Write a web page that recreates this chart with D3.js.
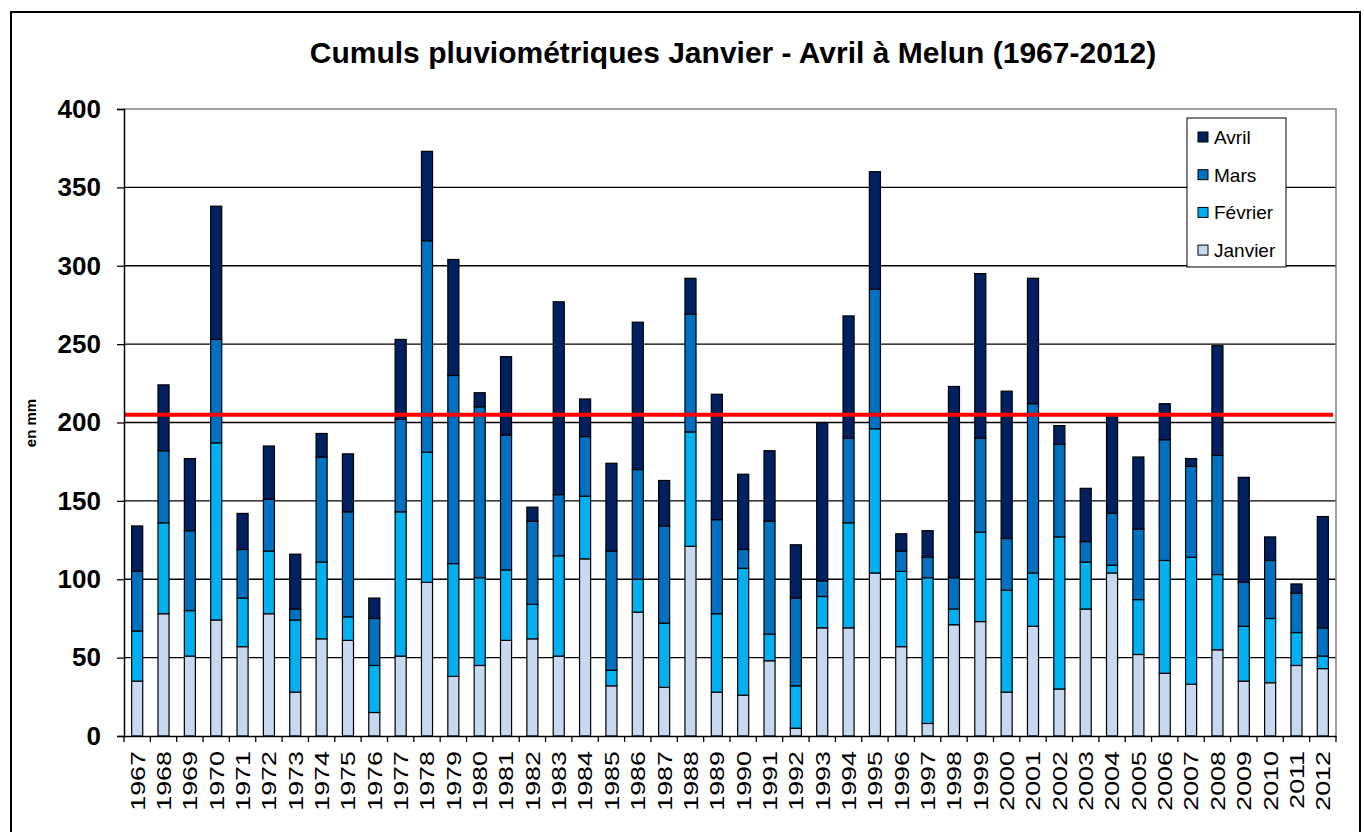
<!DOCTYPE html>
<html>
<head>
<meta charset="utf-8">
<script src="https://cdn.jsdelivr.net/npm/d3@7"></script>
<style>
  body { margin: 0; background: #fff; }
  svg { display: block; font-family: Arial, "Liberation Sans", sans-serif; }
</style>
</head>
<body>
<div id="chart"></div>
<script>
const years = [1967, 1968, 1969, 1970, 1971, 1972, 1973, 1974, 1975, 1976,
  1977, 1978, 1979, 1980, 1981, 1982, 1983, 1984, 1985, 1986,
  1987, 1988, 1989, 1990, 1991, 1992, 1993, 1994, 1995, 1996,
  1997, 1998, 1999, 2000, 2001, 2002, 2003, 2004, 2005, 2006,
  2007, 2008, 2009, 2010, 2011, 2012];

// pluie mensuelle en mm
const janvier = [35, 78, 51, 74, 57, 78, 28, 62, 61, 15, 51, 98, 38, 45, 61, 62, 51, 113, 32, 79,
  31, 121, 28, 26, 48, 5, 69, 69, 104, 57, 8, 71, 73, 28, 70, 30, 81, 104, 52, 40, 33, 55, 35, 34, 45, 43];
const fevrier = [32, 58, 29, 113, 31, 40, 46, 49, 15, 30, 92, 83, 72, 56, 45, 22, 64, 40, 10, 21,
  41, 73, 50, 81, 17, 27, 20, 67, 92, 48, 93, 10, 57, 65, 34, 97, 30, 5, 35, 72, 81, 48, 35, 41, 21, 8];
const mars = [38, 46, 51, 66, 31, 33, 7, 67, 67, 30, 59, 135, 120, 109, 86, 53, 39, 38, 76, 70,
  62, 75, 60, 12, 72, 56, 10, 54, 89, 13, 13, 20, 60, 33, 108, 59, 13, 33, 45, 77, 58, 76, 28, 37, 25, 18];
const avril = [29, 42, 46, 85, 23, 34, 35, 15, 37, 13, 51, 57, 74, 9, 50, 9, 123, 24, 56, 94,
  29, 23, 80, 48, 45, 34, 101, 78, 75, 11, 17, 122, 105, 94, 80, 12, 34, 62, 46, 23, 5, 70, 67, 15, 6, 71];

const seuil = 205; // ligne rouge
const months = ["Janvier", "Février", "Mars", "Avril"];
const yTicks = [0, 50, 100, 150, 200, 250, 300, 350, 400];

const W = 1364, H = 832;
const plotL = 124, plotR = 1336, plotT = 109, plotB = 736;

const colors = d3.scaleOrdinal()
  .domain(months)
  .range(["#c6d9f1", "#00b0f0", "#0070c0", "#002060"]);

const table = years.map((yr, i) => ({
  year: yr, "Janvier": janvier[i], "Février": fevrier[i], "Mars": mars[i], "Avril": avril[i]
}));
const series = d3.stack().keys(months)(table);

const x = d3.scaleBand()
  .domain(years)
  .range([plotL, plotR])
  .paddingInner(0.58)
  .paddingOuter(0.29);

const y = d3.scaleLinear().domain([0, 400]).range([plotB, plotT]);

const svg = d3.select("#chart").append("svg")
  .attr("width", W)
  .attr("height", H);

// cadre extérieur
svg.append("rect")
  .attr("x", 11).attr("y", 12)
  .attr("width", 1349).attr("height", 840)
  .attr("fill", "none")
  .attr("stroke", "#000")
  .attr("stroke-width", 2);

svg.append("text")
  .text("Cumuls pluviométriques Janvier - Avril à Melun (1967-2012)")
  .attr("x", 733)
  .attr("y", 63)
  .attr("text-anchor", "middle")
  .style("font-weight", "bold")
  .style("font-size", "30px");

// grille
svg.append("g")
  .selectAll("line")
  .data(yTicks.filter(d => d > 0 && d < 400))
  .enter()
  .append("line")
  .attr("x1", plotL).attr("x2", plotR)
  .attr("y1", d => y(d)).attr("y2", d => y(d))
  .attr("stroke", "#000")
  .attr("stroke-width", 1.3);

// bord du graphique (haut + droite en gris)
svg.append("path")
  .attr("d", `M${plotL},${y(400)}H${plotR}V${plotB}`)
  .attr("fill", "none")
  .attr("stroke", "#808080")
  .attr("stroke-width", 1.5);

// barres empilées
svg.append("g")
  .selectAll("g")
  .data(series)
  .enter()
  .append("g")
  .attr("fill", d => colors(d.key))
  .selectAll("rect")
  .data(d => d)
  .enter()
  .append("rect")
  .attr("x", d => x(d.data.year))
  .attr("width", x.bandwidth())
  .attr("y", d => y(d[1]))
  .attr("height", d => y(d[0]) - y(d[1]))
  .attr("stroke", "#000")
  .attr("stroke-width", 1.2);

// ligne rouge
svg.append("line")
  .attr("x1", plotL).attr("x2", plotR - 3)
  .attr("y1", y(seuil)).attr("y2", y(seuil))
  .attr("stroke", "#ff0000")
  .attr("stroke-width", 4);

// axe Y
const yAxis = svg.append("g")
  .attr("transform", `translate(${plotL},0)`)
  .call(d3.axisLeft(y).tickValues(yTicks).tickSize(7).tickPadding(16));
yAxis.select(".domain").attr("stroke", "#000").attr("stroke-width", 1.5);
yAxis.selectAll(".tick line").attr("stroke", "#000").attr("stroke-width", 1.3);
yAxis.selectAll(".tick text")
  .style("font-size", "26px")
  .style("font-weight", "bold")
  .attr("fill", "#000")
  .attr("font-family", "Arial, 'Liberation Sans', sans-serif");

// axe X
const xAxis = svg.append("g")
  .attr("transform", `translate(0,${plotB})`)
  .call(d3.axisBottom(x).tickSize(0).tickSizeOuter(0).tickPadding(0));
xAxis.select(".domain").attr("stroke", "#000").attr("stroke-width", 1.5);
xAxis.selectAll(".tick text")
  .attr("y", 0)
  .attr("dy", 0)
  .attr("text-anchor", "end")
  .attr("dominant-baseline", "central")
  .attr("transform", "translate(0,15) rotate(-90) scale(1.28,1)")
  .attr("fill", "#000")
  .attr("font-family", "Arial, 'Liberation Sans', sans-serif")
  .style("font-size", "21px");

// graduations entre catégories
const bounds = years.map(d => x(d) - (x.step() - x.bandwidth()) / 2).concat([plotR]);
svg.append("g")
  .selectAll("line")
  .data(bounds)
  .enter()
  .append("line")
  .attr("x1", d => d).attr("x2", d => d)
  .attr("y1", plotB).attr("y2", plotB + 6)
  .attr("stroke", "#000")
  .attr("stroke-width", 1.3);

svg.append("text")
  .text("en mm")
  .attr("transform", `translate(36,423) rotate(-90)`)
  .attr("text-anchor", "middle")
  .style("font-weight", "bold")
  .style("font-size", "15px");

// légende
const legend = svg.append("g")
  .attr("id", "legend")
  .attr("transform", "translate(1187,118)");

legend.append("rect")
  .attr("width", 99)
  .attr("height", 149)
  .attr("fill", "#fff")
  .attr("stroke", "#000")
  .attr("stroke-width", 1);

const items = legend.selectAll("g")
  .data(months.slice().reverse())
  .enter()
  .append("g")
  .attr("transform", (_, i) => `translate(11, ${19 + i * 37.7})`);

items.append("rect")
  .attr("x", 0).attr("y", -5)
  .attr("width", 10).attr("height", 10)
  .attr("fill", d => colors(d))
  .attr("stroke", "#000")
  .attr("stroke-width", 1);

items.append("text")
  .text(d => d)
  .attr("x", 16)
  .attr("y", 7)
  .style("font-size", "19px");
</script>
</body>
</html>
